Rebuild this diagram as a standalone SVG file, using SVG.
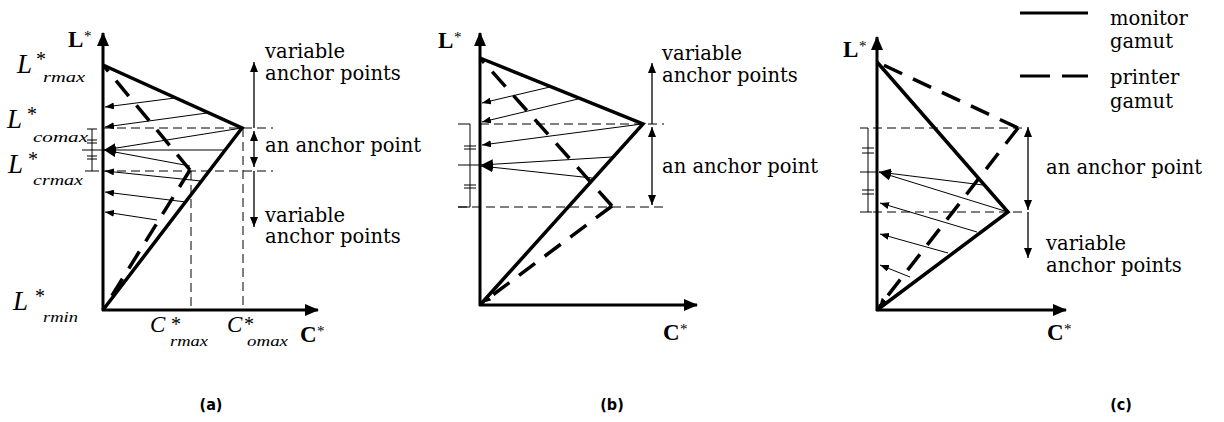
<svg xmlns="http://www.w3.org/2000/svg" width="1224" height="422" viewBox="0 0 1224 422">
<style>
.ax{stroke:#000;stroke-width:3;fill:none}
.mon{stroke:#000;stroke-width:3.5;fill:none;stroke-linejoin:miter}
.prn{stroke:#000;stroke-width:3.5;fill:none;stroke-dasharray:20 12}
.thin{stroke:#000;stroke-width:1;fill:none}
.dsh{stroke:#000;stroke-width:1;fill:none;stroke-dasharray:9 5}
.dim{stroke:#000;stroke-width:1.3;fill:none}
.lbl{font-family:"DejaVu Serif",serif;font-size:19.5px;fill:#000}
.itL{font-family:"Liberation Serif",serif;font-style:italic;font-size:27px;fill:#000}
.itC{font-family:"Liberation Serif",serif;font-style:italic;font-size:23px;fill:#000}
.sub{font-family:"Liberation Serif",serif;font-style:italic;font-size:15px;fill:#000}
.star{font-family:"Liberation Serif",serif;font-size:20px;fill:#000}
.bL{font-family:"Liberation Serif",serif;font-weight:bold;font-size:23px;fill:#000}
.bs{font-family:"Liberation Serif",serif;font-size:15px;fill:#000}
.cap{font-family:"DejaVu Sans Condensed","DejaVu Sans",sans-serif;font-weight:bold;font-size:16px;fill:#000}
</style>
<defs>
<marker id="mAx" markerUnits="userSpaceOnUse" markerWidth="14" markerHeight="12" refX="13" refY="6" orient="auto"><path d="M0,0 L14,6 L0,12 z" fill="#000"/></marker>
<marker id="mSm" markerUnits="userSpaceOnUse" markerWidth="9" markerHeight="7" refX="9" refY="3.5" orient="auto"><path d="M0,0 L9,3.5 L0,7 z" fill="#000"/></marker>
<marker id="mBg" markerUnits="userSpaceOnUse" markerWidth="12" markerHeight="10" refX="12" refY="5" orient="auto"><path d="M0,0 L12,5 L0,10 z" fill="#000"/></marker>
<marker id="mDm" markerUnits="userSpaceOnUse" markerWidth="10" markerHeight="8" refX="10" refY="4" orient="auto"><path d="M0,0 L10,4 L0,8 z" fill="#000"/></marker>
</defs>
<rect width="1224" height="422" fill="#fff"/>

<!-- legend -->
<g id="legend">
<line x1="1020" y1="13" x2="1088" y2="13" class="ax"/>
<text class="lbl" x="1110" y="25">monitor</text>
<text class="lbl" x="1110" y="48">gamut</text>
<line x1="1020" y1="76" x2="1088" y2="76" style="stroke:#000;stroke-width:3;stroke-dasharray:30 12"/>
<text class="lbl" x="1110" y="84">printer</text>
<text class="lbl" x="1110" y="108">gamut</text>
</g>

<!-- panel a -->
<g id="panel-a">
<g id="a-guides">
<line x1="103" y1="128" x2="273" y2="128" class="dsh"/>
<line x1="103" y1="171" x2="273" y2="171" class="dsh"/>
<line x1="243" y1="128" x2="243" y2="310" class="dsh"/>
<line x1="191" y1="171" x2="191" y2="310" class="dsh"/>
<path class="thin" d="M92,129 V171 M87,129 H97 M85,171 H99 M87,140 H97 M87,143 H97 M87,156 H97 M87,159 H97 M82,150 H225"/>
</g>
<g id="a-connectors">
<line x1="175" y1="98" x2="105" y2="107" class="thin" marker-end="url(#mSm)"/>
<line x1="207" y1="113" x2="105" y2="127" class="thin" marker-end="url(#mSm)"/>
<line x1="242" y1="128" x2="104" y2="150" class="thin" marker-end="url(#mBg)"/>
<line x1="190" y1="166" x2="104" y2="150" class="thin" marker-end="url(#mBg)"/>
<line x1="201" y1="181" x2="105" y2="171" class="thin" marker-end="url(#mSm)"/>
<line x1="186" y1="202" x2="105" y2="192" class="thin" marker-end="url(#mSm)"/>
<line x1="157" y1="220" x2="105" y2="212" class="thin" marker-end="url(#mSm)"/>
</g>
<g id="a-gamuts">
<path class="mon" d="M103,65 L242,128 L103,310"/>
<path class="prn" d="M190,170 L103,65 M190,170 L103,310"/>
</g>
<g id="a-axes">
<line x1="103" y1="311" x2="103" y2="33" class="ax" marker-end="url(#mAx)"/>
<line x1="102" y1="310" x2="318" y2="310" class="ax" marker-end="url(#mAx)"/>
</g>
<g id="a-dim">
<line x1="254" y1="128" x2="254" y2="62" class="dim" marker-end="url(#mDm)"/>
<line x1="254" y1="150" x2="254" y2="131" class="dim" marker-end="url(#mDm)"/>
<line x1="254" y1="150" x2="254" y2="167" class="dim" marker-end="url(#mDm)"/>
<line x1="254" y1="171" x2="254" y2="227" class="dim" marker-end="url(#mDm)"/>
</g>
<g id="a-labels">
<text class="bL" x="68" y="47">L</text><text class="bs" x="84" y="41">*</text>
<text class="itL" x="17" y="73">L</text><text class="star" x="36" y="66">*</text><text class="sub" x="43" y="82" textLength="42" lengthAdjust="spacingAndGlyphs">rmax</text>
<text class="itL" x="7" y="128">L</text><text class="star" x="27" y="121">*</text><text class="sub" x="33" y="142" textLength="55" lengthAdjust="spacingAndGlyphs">comax</text>
<text class="itL" x="8" y="173">L</text><text class="star" x="28" y="166">*</text><text class="sub" x="33" y="185" textLength="50" lengthAdjust="spacingAndGlyphs">crmax</text>
<text class="itL" x="13" y="310">L</text><text class="star" x="35" y="303">*</text><text class="sub" x="43" y="322" textLength="35" lengthAdjust="spacingAndGlyphs">rmin</text>
<text class="itC" x="150" y="332">C</text><text class="star" x="171" y="331">*</text><text class="sub" x="170" y="346" textLength="38" lengthAdjust="spacingAndGlyphs">rmax</text>
<text class="itC" x="227" y="332">C</text><text class="star" x="244" y="331">*</text><text class="sub" x="247" y="346" textLength="41" lengthAdjust="spacingAndGlyphs">omax</text>
<text class="bL" x="300" y="342">C</text><text class="bs" x="317" y="336">*</text>
<text class="lbl" x="265" y="58">variable</text>
<text class="lbl" x="265" y="80">anchor points</text>
<text class="lbl" x="265" y="152">an anchor point</text>
<text class="lbl" x="265" y="222">variable</text>
<text class="lbl" x="265" y="243">anchor points</text>
</g>
</g>

<!-- panel b -->
<g id="panel-b">
<g id="b-guides">
<line x1="480" y1="124" x2="664" y2="124" class="dsh"/>
<line x1="458" y1="207" x2="664" y2="207" class="dsh"/>
<path class="thin" d="M470,124 V207 M458,124 H470 M458,207 H470 M464,146 H476 M464,149 H476 M464,185 H476 M464,188 H476 M458,165 H480"/>
</g>
<g id="b-connectors">
<line x1="550" y1="87" x2="482" y2="103" class="thin" marker-end="url(#mSm)"/>
<line x1="578" y1="99" x2="482" y2="122" class="thin" marker-end="url(#mSm)"/>
<line x1="642" y1="124" x2="482" y2="145" class="thin" marker-end="url(#mSm)"/>
<line x1="612" y1="157" x2="481" y2="165" class="thin" marker-end="url(#mBg)"/>
<line x1="592" y1="178" x2="481" y2="166" class="thin" marker-end="url(#mBg)"/>
</g>
<g id="b-gamuts">
<path class="mon" d="M480,58 L643,124 L480,305"/>
<path class="prn" d="M612,206 L480,58"/>
<path class="prn" d="M612,206 L482,303" marker-end="url(#mSm)"/>
</g>
<g id="b-axes">
<line x1="480" y1="306" x2="480" y2="33" class="ax" marker-end="url(#mAx)"/>
<line x1="479" y1="305" x2="697" y2="305" class="ax" marker-end="url(#mAx)"/>
</g>
<g id="b-dim">
<line x1="652" y1="124" x2="652" y2="63" class="dim" marker-end="url(#mDm)"/>
<line x1="652" y1="165" x2="652" y2="127" class="dim" marker-end="url(#mDm)"/>
<line x1="652" y1="165" x2="652" y2="205" class="dim" marker-end="url(#mDm)"/>
</g>
<g id="b-labels">
<text class="bL" x="438" y="48">L</text><text class="bs" x="454" y="42">*</text>
<text class="bL" x="663" y="340">C</text><text class="bs" x="680" y="334">*</text>
<text class="lbl" x="662" y="60">variable</text>
<text class="lbl" x="662" y="82">anchor points</text>
<text class="lbl" x="662" y="173">an anchor point</text>
</g>
</g>

<!-- panel c -->
<g id="panel-c">
<g id="c-guides">
<line x1="873" y1="128" x2="1027" y2="128" class="dsh"/>
<line x1="873" y1="212" x2="1027" y2="212" class="dsh"/>
<path class="thin" d="M868,128 V212 M860,128 H868 M860,212 H872 M862,148 H874 M862,153 H874 M862,190 H874 M862,194 H874 M860,172 H877"/>
</g>
<g id="c-connectors">
<line x1="983" y1="185" x2="879" y2="172" class="thin" marker-end="url(#mBg)"/>
<line x1="1008" y1="212" x2="879" y2="172" class="thin" marker-end="url(#mBg)"/>
<line x1="977" y1="232" x2="880" y2="203" class="thin" marker-end="url(#mSm)"/>
<line x1="948" y1="253" x2="880" y2="234" class="thin" marker-end="url(#mSm)"/>
<line x1="910" y1="277" x2="880" y2="265" class="thin" marker-end="url(#mSm)"/>
</g>
<g id="c-gamuts">
<path class="mon" d="M877,62 L1008,212 L877,310"/>
<path class="prn" d="M1018,128 L877,62"/>
<path class="prn" d="M1018,128 L879,307" marker-end="url(#mSm)"/>
</g>
<g id="c-axes">
<line x1="877" y1="311" x2="877" y2="37" class="ax" marker-end="url(#mAx)"/>
<line x1="876" y1="310" x2="1066" y2="310" class="ax" marker-end="url(#mAx)"/>
</g>
<g id="c-dim">
<line x1="1028" y1="170" x2="1028" y2="127" class="dim" marker-end="url(#mDm)"/>
<line x1="1028" y1="170" x2="1028" y2="210" class="dim" marker-end="url(#mDm)"/>
<line x1="1028" y1="212" x2="1028" y2="258" class="dim" marker-end="url(#mDm)"/>
</g>
<g id="c-labels">
<text class="bL" x="843" y="57">L</text><text class="bs" x="859" y="51">*</text>
<text class="bL" x="1047" y="340">C</text><text class="bs" x="1064" y="334">*</text>
<text class="lbl" x="1046" y="174">an anchor point</text>
<text class="lbl" x="1046" y="250">variable</text>
<text class="lbl" x="1046" y="272">anchor points</text>
</g>
</g>

<g id="captions">
<text class="cap" x="211" y="410" text-anchor="middle">(a)</text>
<text class="cap" x="612" y="410" text-anchor="middle">(b)</text>
<text class="cap" x="1121" y="410" text-anchor="middle">(c)</text>
</g>
</svg>
